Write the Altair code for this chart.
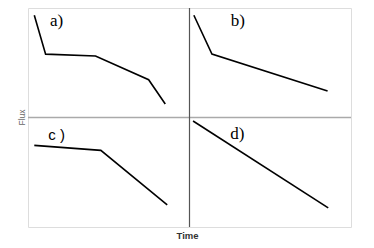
import altair as alt
import pandas as pd

# Panel curves: local time / flux fractions (0..1) within each quadrant
a_t = [0.039, 0.109, 0.418, 0.747, 0.850]
a_f = [0.934, 0.579, 0.561, 0.345, 0.123]
b_t = [0.027, 0.139, 0.855]
b_f = [0.934, 0.579, 0.241]
c_t = [0.039, 0.451, 0.862]
c_f = [0.745, 0.700, 0.201]
d_t = [0.022, 0.859]
d_f = [0.968, 0.174]

panel_names = ["a", "b", "c", "d"]
panel_col = [0, 1, 0, 1]
panel_row = [0, 0, 1, 1]

label_text = ["a)", "b)", "c )", "d)"]
label_t = [0.177, 0.300, 0.177, 0.296]
label_f = [0.880, 0.880, 0.844, 0.850]

series = {"a": (a_t, a_f), "b": (b_t, b_f), "c": (c_t, c_f), "d": (d_t, d_f)}
rows = []
for name, col, row in zip(panel_names, panel_col, panel_row):
    ts, fs = series[name]
    for i, (t, f) in enumerate(zip(ts, fs)):
        rows.append({"panel": name, "order": i, "t": t, "f": f, "col": col, "row": row})
curves = pd.DataFrame(rows)

labels = pd.DataFrame({
    "panel": panel_names, "text": label_text, "t": label_t, "f": label_f,
    "col": panel_col, "row": panel_row,
    "serif": [True, True, False, True],
})

xs = alt.Scale(domain=[0, 2], nice=False, zero=False)
ys = alt.Scale(domain=[0, 2], nice=False, zero=False)

xaxis = alt.Axis(title="Time", domain=False, ticks=False, labels=False, grid=False,
                 titleFont="Liberation Sans", titleFontSize=9.5, titleFontWeight="bold",
                 titleColor="#333333", titleX=159, titleY=8, titleBaseline="middle")
yaxis = alt.Axis(title="Flux", domain=False, ticks=False, labels=False, grid=False,
                 titleFont="Liberation Sans", titleFontSize=8.5, titleFontWeight="normal",
                 titleColor="#666666", titleX=-7, titleY=109, titleAngle=-90,
                 titleAlign="center", titleBaseline="middle")

base = alt.Chart(curves).transform_calculate(
    X="datum.t + datum.col", Y="datum.f + 1 - datum.row"
)

lines = base.mark_line(color="black", strokeWidth=1.6).encode(
    x=alt.X("X:Q", scale=xs, axis=xaxis),
    y=alt.Y("Y:Q", scale=ys, axis=yaxis),
    detail="panel:N",
    order="order:Q",
)

mid = pd.DataFrame({"v": [1]})
vrule = alt.Chart(mid).mark_rule(color="#555555", strokeWidth=1.2).encode(
    x=alt.X("v:Q", scale=xs))
hrule = alt.Chart(mid).mark_rule(color="#aaaaaa", strokeWidth=1.5).encode(
    y=alt.Y("v:Q", scale=ys))

lab_base = alt.Chart(labels).transform_calculate(
    X="datum.t + datum.col", Y="datum.f + 1 - datum.row"
)
serif_labels = lab_base.transform_filter("datum.serif").mark_text(
    font="Liberation Serif", fontSize=17, color="black", align="center", baseline="middle"
).encode(x=alt.X("X:Q", scale=xs), y=alt.Y("Y:Q", scale=ys), text="text:N")
sans_labels = lab_base.transform_filter("!datum.serif").mark_text(
    font="Liberation Sans", fontSize=15, fontWeight="normal", color="black",
    align="center", baseline="middle"
).encode(x=alt.X("X:Q", scale=xs), y=alt.Y("Y:Q", scale=ys), text="text:N")

chart = alt.layer(hrule, vrule, lines, serif_labels, sans_labels).properties(
    width=323, height=219,
    autosize=alt.AutoSizeParams(type="none"),
    padding={"left": 20, "top": 0, "right": 5, "bottom": 16},
).configure_view(stroke="#808080", strokeWidth=1.5).configure(background="white")

chart.save("out.html", embed_options={"renderer": "svg", "actions": False})
